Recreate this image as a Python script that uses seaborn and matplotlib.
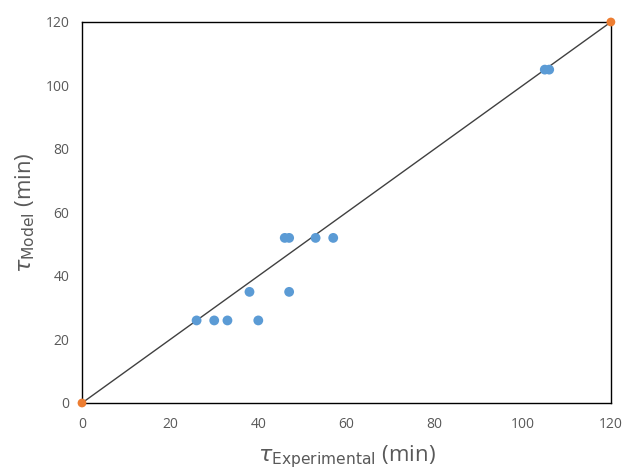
import numpy as np
import pandas as pd
import matplotlib.pyplot as plt
import seaborn as sns

# Experimental vs model times (min)
tau_exp = [26, 30, 33, 40, 38, 47, 46, 47, 53, 57, 105, 106]
tau_model = [26, 26, 26, 26, 35, 35, 52, 52, 52, 52, 105, 105]

# y = x reference line endpoints
line_x = [0, 120]
line_y = [0, 120]

ticks = [0, 20, 40, 60, 80, 100, 120]

sns.set_style('white')
plt.rcParams['font.family'] = ['Open Sans', 'DejaVu Sans']

df = pd.DataFrame({'exp': tau_exp, 'model': tau_model})
df_line = pd.DataFrame({'x': line_x, 'y': line_y})

fig = plt.figure(figsize=(6.24, 4.75), dpi=100)
ax = fig.add_axes([0.1314, 0.1516, 0.8476, 0.8021])

sns.lineplot(data=df_line, x='x', y='y', ax=ax, color='#404040', linewidth=1.0)
sns.scatterplot(data=df_line, x='x', y='y', ax=ax, color='#ED7D31', s=40,
                edgecolor='none', clip_on=False, zorder=5)
sns.scatterplot(data=df, x='exp', y='model', ax=ax, color='#5B9BD5', s=50,
                edgecolor='none', zorder=4)

ax.set_xlim(0, 120)
ax.set_ylim(0, 120)
ax.set_xticks(ticks)
ax.set_yticks(ticks)
ax.tick_params(length=0, labelsize=10, labelcolor='#595959')
ax.tick_params(axis='x', pad=10)
ax.tick_params(axis='y', pad=9)

for s in ax.spines.values():
    s.set_visible(True)
    s.set_color('black')
    s.set_linewidth(1.0)

ax.set_xlabel(r'$\tau_{\mathrm{Experimental}}$ (min)', fontsize=16, color='#595959', labelpad=8)
ax.set_ylabel(r'$\tau_{\mathrm{Model}}$ (min)', fontsize=16, color='#595959', labelpad=6)

plt.savefig('out.png', dpi=100, facecolor='white')
